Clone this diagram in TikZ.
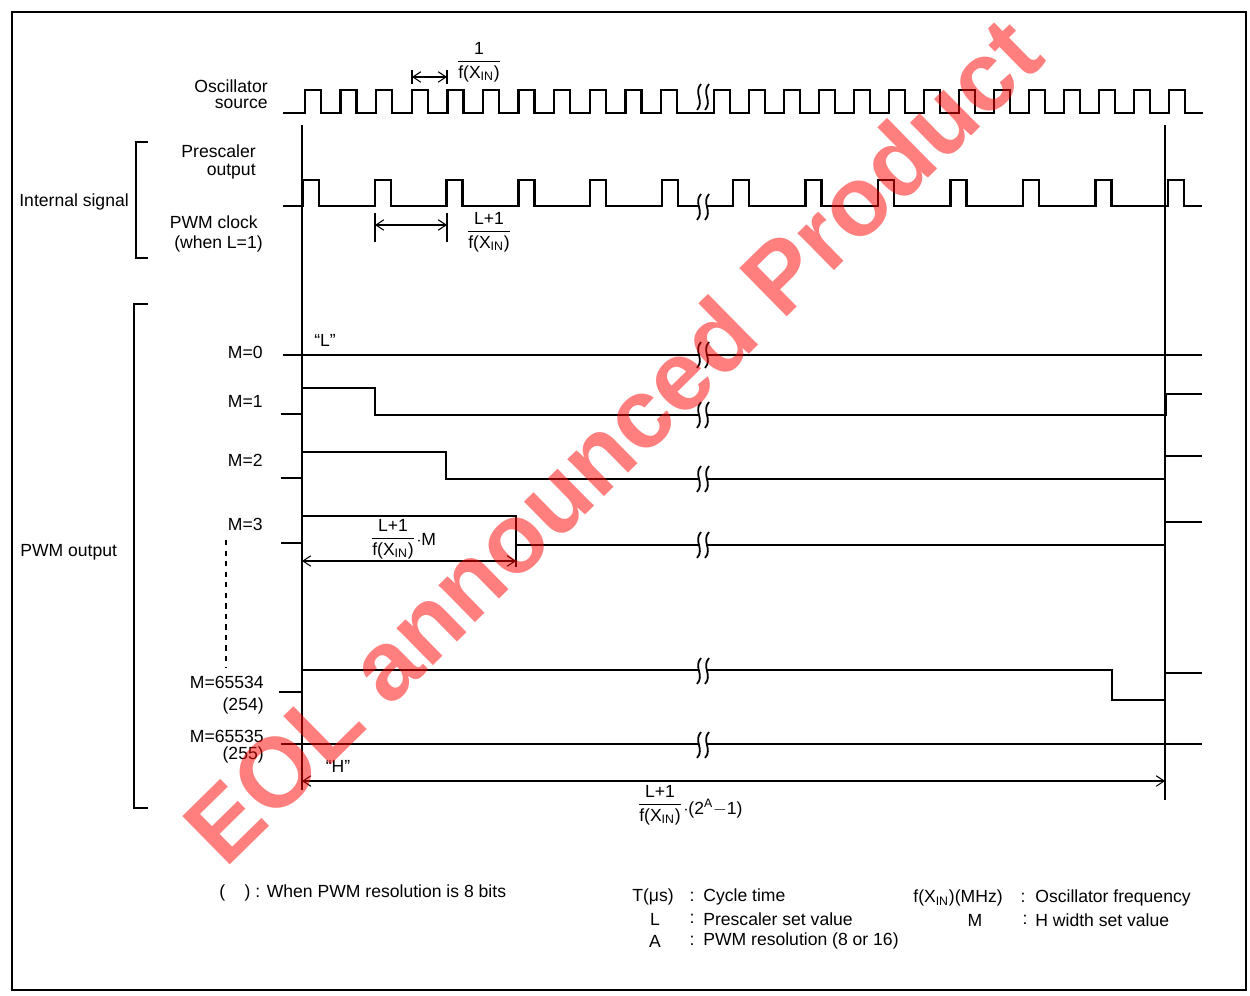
\documentclass[tikz,border=0pt]{standalone}
\usepackage{fontspec}
\setmainfont{Liberation Sans}
\usepackage{amsmath}
\usetikzlibrary{arrows.meta}

\newcommand{\fx}{f(X\textsubscript{IN})}
\newcommand{\fxfrac}[1]{$\dfrac{\text{#1}}{\text{\fx}}$}

\tikzset{
  wave/.style={line width=1.4pt},
  guide/.style={line width=0.6pt},
  dimline/.style={line width=0.6pt, {Straight Barb[length=4.5pt,width=6pt]}-{Straight Barb[length=4.5pt,width=6pt]}},
  lbl/.style={font=\fontsize{10}{12}\selectfont, inner sep=0pt},
  brk/.pic={
    \fill[white] (1,-13) .. controls (-7,-4) and (5,4) .. (-3,13) -- (5,13) .. controls (13,4) and (1,-4) .. (9,-13) -- cycle;
    \draw[line width=1pt] (1,-13) .. controls (-7,-4) and (5,4) .. (-3,13);
    \draw[line width=1pt] (9,-13) .. controls (1,-4) and (13,4) .. (5,13);
  }
}

\begin{document}
\begin{tikzpicture}[x=0.02cm, y=-0.02cm]
\useasboundingbox (0,0) rectangle (1250,996);
\draw[line width=1.2pt] (12,12) rectangle (1246,990);

% guide lines
\draw[guide] (302,125) -- (302,790);
\draw[guide] (1165,125) -- (1165,800);
\draw[guide, dashed] (226,540) -- (226,668);
\draw[guide] (148,142) -- (136,142) -- (136,258) -- (148,258);
\draw[guide] (148,304) -- (134,304) -- (134,808) -- (148,808);

% oscillator and prescaler
\draw[wave] (283,113) \foreach \k in {0,...,10} { -- ({305+35.6*\k},113) -- ++(0,-23) -- ++(16,0) -- ++(0,23) }
  \foreach \k in {0,...,13} { -- ({714+35*\k},113) -- ++(0,-23) -- ++(16,0) -- ++(0,23) } -- (1203,113);
\draw[wave] (283,206) \foreach \k in {0,...,5} { -- ({303+71.8*\k},206) -- ++(0,-26) -- ++(16,0) -- ++(0,26) }
  \foreach \k in {0,...,6} { -- ({733+72.5*\k},206) -- ++(0,-26) -- ++(16,0) -- ++(0,26) } -- (1202,206);

% PWM output
\draw[wave] (283,355) -- (1202,355);
\draw[wave] (281,414) -- (302,414) -- (302,388) -- (375,388) -- (375,415) -- (1166,415) -- (1166,394) -- (1202,394);
\draw[wave] (281,478) -- (302,478) -- (302,452) -- (446,452) -- (446,479) -- (1165,479) -- (1165,456) -- (1202,456);
\draw[wave] (281,543) -- (302,543) -- (302,516) -- (516,516) -- (516,545) -- (1165,545) -- (1165,522) -- (1202,522);
\draw[wave] (279,692) -- (302,692) -- (302,670) -- (1112,670) -- (1112,700) -- (1165,700) -- (1165,673) -- (1202,673);
\draw[wave] (281,744) -- (1202,744);

\foreach \y in {97,207,355,415,479,545,671,745} \pic at (700,\y) {brk};

% dimensions
\coordinate (t1) at (412,77);
\coordinate (t2) at (447,77);
\draw[guide] (412,70) -- (412,84) (447,70) -- (447,84);
\draw[dimline] (t1) -- (t2);
\node[lbl] (f1) at (479,62) {\fxfrac{1}};

\coordinate (p1) at (375,225);
\coordinate (p2) at (447,225);
\draw[guide] (375,213) -- (375,242) (447,213) -- (447,242);
\draw[dimline] (p1) -- (p2);
\node[lbl] (f2) at (489,232) {\fxfrac{L+1}};

\coordinate (m1) at (302,561);
\coordinate (m2) at (516,561);
\draw[guide] (516,545) -- (516,567);
\draw[dimline] (m1) -- (m2);
\node[lbl] (f3) at (393,539) {\fxfrac{L+1}};
\node[lbl, anchor=west] (f3m) at (f3.east) {$\cdot$M};

\coordinate (a1) at (302,781);
\coordinate (a2) at (1165,781);
\draw[dimline] (a1) -- (a2);
\node[lbl] (f4) at (660,805) {\fxfrac{L+1}};
\node[lbl, anchor=west] (f4m) at ([yshift=-2pt]f4.east) {$\cdot$(2\textsuperscript{A}$-$1)};

% labels
\node[lbl, anchor=east] (osc) at (268,86) {Oscillator};
\node[lbl, anchor=east] (src) at (268,104) {source};
\node[lbl, anchor=east] (pre) at (256,151) {Prescaler};
\node[lbl, anchor=east] (out) at (256,172) {output};
\node[lbl, anchor=east] (clk) at (258,222) {PWM clock};
\node[lbl, anchor=east] (whn) at (263,244) {(when L=1)};
\node[lbl, anchor=west] (int) at (19,202) {Internal signal};
\node[lbl, anchor=west] (pwm) at (20,552) {PWM output};
\node[lbl, anchor=east] (m0) at (263,352) {M=0};
\node[lbl, anchor=east] (m1l) at (263,401) {M=1};
\node[lbl, anchor=east] (m2l) at (263,460) {M=2};
\node[lbl, anchor=east] (m3l) at (263,524) {M=3};
\node[lbl, anchor=east] (m4l) at (264,682) {M=65534};
\node[lbl, anchor=east] (m4b) at (264,706) {(254)};
\node[lbl, anchor=east] (m5l) at (264,736) {M=65535};
\node[lbl, anchor=east] (m5b) at (264,755) {(255)};
\node[lbl] (lo) at (325,340) {``L''};
\node[lbl] (hi) at (338,766) {``H''};

% legend
\node[lbl, anchor=west] (n1) at (219,893) {(\ \ \ \ ) : When PWM resolution is 8 bits};
\node[lbl, anchor=west] (n2) at (632,897) {T(μs)};
\node[lbl] (c2) at (692,897) {:};
\node[lbl, anchor=west] (d2) at (703,897) {Cycle time};
\node[lbl] (n3) at (655,919) {L};
\node[lbl] (c3) at (692,919) {:};
\node[lbl, anchor=west] (d3) at (703,919) {Prescaler set value};
\node[lbl] (n4) at (655,941) {A};
\node[lbl] (c4) at (692,941) {:};
\node[lbl, anchor=west] (d4) at (703,941) {PWM resolution (8 or 16)};
\node[lbl, anchor=west] (n5) at (913,898) {\fx(MHz)};
\node[lbl] (c5) at (1023,898) {:};
\node[lbl, anchor=west] (d5) at (1035,898) {Oscillator frequency};
\node[lbl] (n6) at (975,920) {M};
\node[lbl] (c6) at (1025,920) {:};
\node[lbl, anchor=west] (d6) at (1035,920) {H width set value};

% watermark
\node[rotate=44.5, text=red, text opacity=0.5, font=\fontsize{56}{60}\selectfont\bfseries] (eol) at (612,440) {EOL announced Product};
\end{tikzpicture}
\end{document}
